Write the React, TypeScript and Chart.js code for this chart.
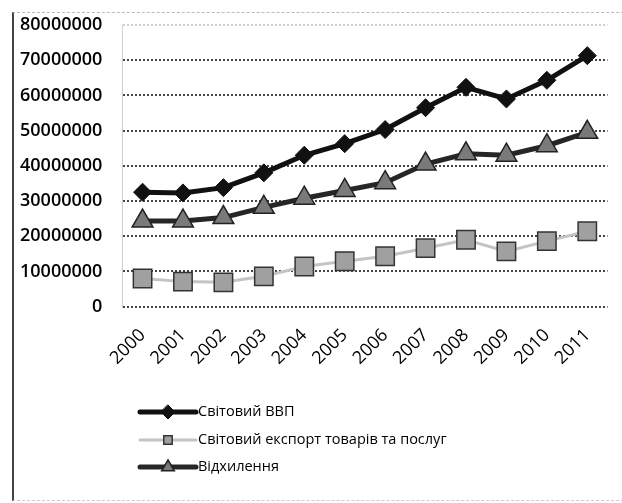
import React, { useEffect, useRef } from "react";
import { Chart, registerables } from "chart.js";

Chart.register(...registerables);

const years = ["2000", "2001", "2002", "2003", "2004", "2005", "2006", "2007", "2008", "2009", "2010", "2011"];
const gdp = [32500000, 32300000, 33800000, 38000000, 43000000, 46300000, 50300000, 56500000, 62300000, 59000000, 64300000, 71300000];
const exportVals = [8000000, 7100000, 6900000, 8600000, 11400000, 12900000, 14300000, 16600000, 19000000, 15700000, 18600000, 21400000];
const deviation = [24300000, 24300000, 25300000, 28200000, 30800000, 33000000, 35200000, 40500000, 43400000, 43000000, 45700000, 49500000];
const seriesNames = ["Світовий ВВП", "Світовий експорт товарів та послуг", "Відхилення"];
const yTicks = [0, 10000000, 20000000, 30000000, 40000000, 50000000, 60000000, 70000000, 80000000];

const FONT = "'Open Sans', 'Noto Sans', sans-serif";

function drawMarker(ctx: CanvasRenderingContext2D, style: string, x: number, y: number, r: number) {
  ctx.beginPath();
  if (style === "rectRot") {
    ctx.moveTo(x, y - r);
    ctx.lineTo(x + r, y);
    ctx.lineTo(x, y + r);
    ctx.lineTo(x - r, y);
  } else if (style === "rect") {
    const s = r * 0.6;
    ctx.rect(x - s, y - s, 2 * s, 2 * s);
  } else {
    ctx.moveTo(x, y - r);
    ctx.lineTo(x + r * 0.9, y + r * 0.55);
    ctx.lineTo(x - r * 0.9, y + r * 0.55);
  }
  ctx.closePath();
  ctx.fill();
  ctx.stroke();
}

const legendPlugin = {
  id: "stackLegend",
  afterDraw(chart: any) {
    const ctx: CanvasRenderingContext2D = chart.ctx;
    const x0 = 140;
    const x1 = 196;
    const ys = [412, 440, 467];
    chart.data.datasets.forEach((ds: any, i: number) => {
      const y = ys[i];
      ctx.save();
      ctx.strokeStyle = ds.borderColor;
      ctx.lineWidth = ds.borderWidth;
      ctx.lineCap = "round";
      ctx.beginPath();
      ctx.moveTo(x0, y);
      ctx.lineTo(x1, y);
      ctx.stroke();
      ctx.fillStyle = ds.pointBackgroundColor;
      ctx.strokeStyle = ds.pointBorderColor;
      ctx.lineWidth = ds.pointBorderWidth;
      drawMarker(ctx, ds.pointStyle, (x0 + x1) / 2, y, 7);
      ctx.fillStyle = "#000";
      ctx.font = `14.5px ${FONT}`;
      ctx.textBaseline = "middle";
      ctx.textAlign = "left";
      ctx.fillText(seriesNames[i], x1 + 2, y);
      ctx.restore();
    });
  },
};

export default function App() {
  const ref = useRef<HTMLCanvasElement | null>(null);
  useEffect(() => {
    if (!ref.current) return;
    const chart = new Chart(ref.current, {
      type: "line",
      data: {
        labels: years,
        datasets: [
          {
            label: seriesNames[0],
            data: gdp,
            borderColor: "#111111",
            borderWidth: 5,
            pointStyle: "rectRot",
            pointRadius: 9,
            pointBackgroundColor: "#111111",
            pointBorderColor: "#111111",
            pointBorderWidth: 1,
            tension: 0,
          },
          {
            label: seriesNames[1],
            data: exportVals,
            borderColor: "#c4c4c4",
            borderWidth: 3,
            pointStyle: "rect",
            pointRadius: 13,
            pointBackgroundColor: "#a0a0a0",
            pointBorderColor: "#333333",
            pointBorderWidth: 1.5,
            tension: 0,
          },
          {
            label: seriesNames[2],
            data: deviation,
            borderColor: "#262626",
            borderWidth: 5,
            pointStyle: "triangle",
            pointRadius: 12,
            pointBackgroundColor: "#7a7a7a",
            pointBorderColor: "#222222",
            pointBorderWidth: 1.5,
            tension: 0,
          },
        ],
      },
      options: {
        animation: false,
        responsive: false,
        layout: { padding: { left: 18, right: 2, top: 25, bottom: 124 } },
        plugins: { legend: { display: false }, tooltip: { enabled: false } },
        scales: {
          x: {
            offset: true,
            grid: { display: false },
            border: { display: false },
            ticks: {
              autoSkip: false,
              minRotation: 45,
              maxRotation: 45,
              color: "#000",
              font: { family: FONT, size: 18 },
              padding: 10,
            },
          },
          y: {
            min: 0,
            max: 80000000,
            afterBuildTicks: (axis: any) => {
              axis.ticks = yTicks.map((v) => ({ value: v }));
            },
            grid: {
              drawTicks: true,
              tickLength: 18,
              tickColor: "rgba(0,0,0,0)",
              color: (c: any) => (c.tick && c.tick.value === 80000000 ? "#cfcfcf" : "#444444"),
              lineWidth: 2,
            },
            border: { display: true, color: "#d0d0d0", dash: [2, 2] },
            ticks: {
              color: "#000",
              font: { family: FONT, size: 18, weight: "600", lineHeight: 1 },
              padding: 2,
              callback: (v: any) => String(v),
            },
          },
        },
      },
      plugins: [legendPlugin],
    });
    return () => chart.destroy();
  }, []);
  return (
    <div style={{ position: "fixed", left: 0, top: 0, width: 622, height: 503, background: "#fff" }}>
      <div
        style={{
          position: "absolute",
          left: 12,
          top: 12,
          width: 640,
          height: 487,
          borderLeft: "2px solid #444",
          borderTop: "1px dashed #bbb",
          borderBottom: "1px dashed #ccc",
        }}
      />
      <canvas ref={ref} width={622} height={503} style={{ position: "absolute", left: 0, top: 0 }} />
    </div>
  );
}
